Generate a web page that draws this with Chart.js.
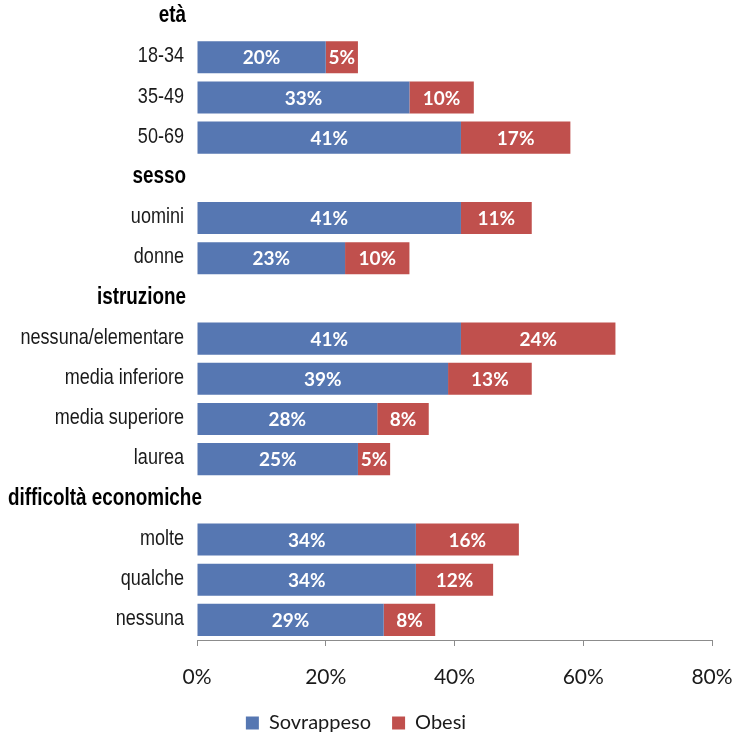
<!DOCTYPE html>
<html>
<head>
<meta charset="utf-8">
<script src="https://cdn.jsdelivr.net/npm/chart.js@4.4.1/dist/chart.umd.min.js"></script>
<style>
  html, body { margin: 0; padding: 0; background: #ffffff; overflow: hidden; height: 733px; }
  #wrap { position: absolute; left: 0; top: -3px; width: 734px; height: 746px; }
</style>
</head>
<body>
<div id="wrap"><canvas id="chart" width="734" height="746"></canvas></div>
<script>
// Rows of the chart, top to bottom; group headings have no bars.
const categories = [
  'età', '18-34', '35-49', '50-69',
  'sesso', 'uomini', 'donne',
  'istruzione', 'nessuna/elementare', 'media inferiore', 'media superiore', 'laurea',
  'difficoltà economiche', 'molte', 'qualche', 'nessuna'
];
const groupHeaders = ['età', 'sesso', 'istruzione', 'difficoltà economiche'];

// Percentages per row (null on heading rows).
const sovrappeso = [null, 20, 33, 41, null, 41, 23, null, 41, 39, 28, 25, null, 34, 34, 29];
const obesi      = [null,  5, 10, 17, null, 11, 10, null, 24, 13,  8,  5, null, 16, 12,  8];

const xTickValues = [0, 20, 40, 60, 80];

const SANS = "'Liberation Sans', Arial, sans-serif";
const LATO = "Lato, 'Open Sans', sans-serif";
const NARROW_SCALE = 0.82;   // Liberation Sans squeezed to narrow proportions

// White value labels centred in each bar segment.
const valueLabels = {
  id: 'valueLabels',
  afterDatasetsDraw(chart) {
    const ctx = chart.ctx;
    ctx.save();
    ctx.fillStyle = '#ffffff';
    ctx.font = `bold 19px ${LATO}`;
    ctx.textAlign = 'center';
    ctx.textBaseline = 'middle';
    chart.data.datasets.forEach((ds, di) => {
      const meta = chart.getDatasetMeta(di);
      meta.data.forEach((bar, i) => {
        const v = ds.data[i];
        if (v === null || v === undefined) return;
        const p = bar.getCenterPoint();
        ctx.fillText(v + '%', p.x, p.y + 1);
      });
    });
    ctx.restore();
  }
};

// Category names in a narrow face; group headings in bold.
const categoryNames = {
  id: 'categoryNames',
  afterDraw(chart) {
    const ctx = chart.ctx;
    const yScale = chart.scales.y;
    const left = chart.chartArea.left;
    ctx.save();
    ctx.textAlign = 'right';
    ctx.textBaseline = 'middle';
    categories.forEach((name, idx) => {
      const isHeader = groupHeaders.includes(name);
      ctx.font = isHeader ? `bold 23px ${SANS}` : `22px ${SANS}`;
      ctx.fillStyle = isHeader ? '#000000' : '#1a1a1a';
      const w = ctx.measureText(name).width * NARROW_SCALE;
      const right = isHeader ? Math.max(left - 11, 8 + w) : left - 13;
      const y = yScale.getPixelForValue(idx) - 1;
      ctx.save();
      ctx.translate(right, y);
      ctx.scale(NARROW_SCALE, 1);
      ctx.fillText(name, 0, 0);
      ctx.restore();
    });
    ctx.restore();
  }
};

// Centres the legend row under the bars and their labels.
const legendCentre = {
  id: 'legendCentre',
  afterLayout(chart) {
    const lg = chart.legend;
    if (!lg) return;
    const dx = 356 - (lg.left + lg.right) / 2;
    lg.left += dx;
    lg.right += dx;
  }
};

new Chart(document.getElementById('chart'), {
  type: 'bar',
  data: {
    labels: categories,
    datasets: [
      { label: 'Sovrappeso', data: sovrappeso, backgroundColor: '#5677B2',
        barPercentage: 0.8, categoryPercentage: 1.0 },
      { label: 'Obesi', data: obesi, backgroundColor: '#C0504D',
        barPercentage: 0.8, categoryPercentage: 1.0 }
    ]
  },
  options: {
    indexAxis: 'y',
    responsive: false,
    animation: false,
    layout: { padding: { top: 0, right: 0, bottom: 0, left: 0 } },
    plugins: {
      legend: {
        position: 'bottom',
        labels: {
          font: { family: LATO, size: 20 },
          color: '#1a1a1a',
          boxWidth: 13,
          boxHeight: 13,
          padding: 21
        }
      },
      tooltip: { enabled: false }
    },
    scales: {
      x: {
        type: 'linear',
        stacked: true,
        min: 0,
        max: 80,
        afterBuildTicks(scale) {
          scale.ticks = xTickValues.map(v => ({ value: v }));
        },
        afterFit(scale) {
          scale.height = 52;
          scale.paddingRight = 22;   // room for the last tick label only
        },
        ticks: {
          callback: v => v + '%',
          font: { family: LATO, size: 21 },
          color: '#1a1a1a',
          padding: 19
        },
        grid: {
          drawOnChartArea: false,
          drawTicks: true,
          tickLength: 6,
          color: '#8c8c8c'
        },
        border: { display: true, color: '#8c8c8c', width: 1 }
      },
      y: {
        type: 'category',
        stacked: true,
        afterFit(scale) { scale.width = 197; },
        ticks: { display: false },
        grid: { display: false, drawTicks: false },
        border: { display: false }
      }
    }
  },
  plugins: [valueLabels, categoryNames, legendCentre]
});
</script>
</body>
</html>
